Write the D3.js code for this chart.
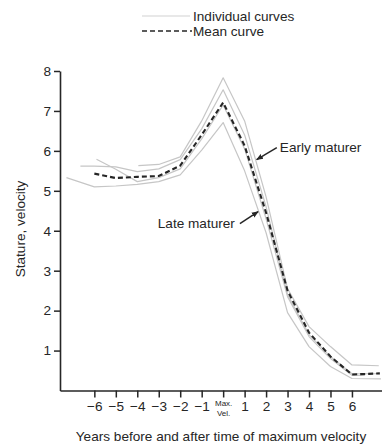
<!DOCTYPE html>
<html>
<head>
<meta charset="utf-8">
<script src="https://cdn.jsdelivr.net/npm/d3@7"></script>
<style>
  html, body { margin: 0; padding: 0; background: #fff; }
  svg { display: block; font-family: "Liberation Sans", Arial, Helvetica, sans-serif; }
</style>
</head>
<body>
<svg id="chart" width="382" height="445"></svg>
<script>
// ---- Data ----
const xTicks = [-6, -5, -4, -3, -2, -1, 0, 1, 2, 3, 4, 5, 6];
const xTickLabels = ["\u22126", "\u22125", "\u22124", "\u22123", "\u22122", "\u22121", "Max.", "1", "2", "3", "4", "5", "6"];
const yTicks = [1, 2, 3, 4, 5, 6, 7, 8];

// Mean curve
const meanT = [-6, -5, -4, -3, -2, -1, 0, 1, 2, 3, 4, 5, 6, 7.3];
const meanV = [5.43, 5.32, 5.35, 5.37, 5.63, 6.4, 7.21, 6.13, 4.45, 2.5, 1.45, 0.85, 0.4, 0.43];

// Individual curves
const earlyT = [-3.95, -3, -2, -1, 0, 1, 2, 3, 4, 5, 6, 7.25];
const earlyV = [5.63, 5.66, 5.85, 6.75, 7.83, 6.75, 4.85, 2.55, 1.6, 1.1, 0.64, 0.62];

const secondT = [-6.65, -6, -5, -4, -3, -2, -1, 0, 1, 2, 3, 4, 5, 6, 7.3];
const secondV = [5.62, 5.62, 5.6, 5.48, 5.55, 5.78, 6.55, 7.53, 6.4, 4.6, 2.4, 1.4, 0.85, 0.42, 0.42];

const thirdT = [-5.9, -5, -4, -3, -2, -1, 0, 1, 2, 3, 4, 5, 6, 6.6];
const thirdV = [5.79, 5.54, 5.23, 5.33, 5.55, 6.3, 7.15, 6.05, 4.3, 2.35, 1.35, 0.8, 0.38, 0.38];

const lateT = [-7.3, -6, -5, -4, -3, -2, -1, 0, 1, 2, 3, 4, 5, 6, 7.35];
const lateV = [5.33, 5.1, 5.12, 5.16, 5.23, 5.4, 6.02, 6.71, 5.5, 3.95, 1.95, 1.1, 0.6, 0.3, 0.29];

// Annotation anchor points (t, value)
const earlyLabel = { text: "Early maturer", tip: [1.56, 5.78], tail: [2.5, 6.08] };
const lateLabel = { text: "Late maturer", tip: [1.63, 4.48], tail: [0.78, 4.18] };

// ---- Chart ----
const svg = d3.select("#chart");
svg.append("rect").attr("width", 382).attr("height", 445).attr("fill", "#fff");

const x = d3.scaleLinear().domain([-7.6, 7.4]).range([60, 382]);
const y = d3.scaleLinear().domain([0, 8]).range([390.5, 71]);

const ink = "#262626";
const grey = "#c6c6c6";
const fs = 13.6;

// Legend
const legend = svg.append("g");
legend.append("line").attr("x1", 142).attr("x2", 190).attr("y1", 16).attr("y2", 16)
  .attr("stroke", "#d2d2d2").attr("stroke-width", 1.2);
legend.append("text").attr("x", 193).attr("y", 20.5).attr("font-size", fs).attr("fill", ink)
  .text("Individual curves");
legend.append("line").attr("x1", 142).attr("x2", 192).attr("y1", 31).attr("y2", 31)
  .attr("stroke", ink).attr("stroke-width", 1.6).attr("stroke-dasharray", "5,3");
legend.append("text").attr("x", 193).attr("y", 36).attr("font-size", fs).attr("fill", ink)
  .text("Mean curve");

// Lines
const line = d3.line().x(d => x(d[0])).y(d => y(d[1]));
const individual = [
  d3.zip(lateT, lateV),
  d3.zip(thirdT, thirdV),
  d3.zip(secondT, secondV),
  d3.zip(earlyT, earlyV)
];
svg.append("g").selectAll("path").data(individual).join("path")
  .attr("d", line).attr("fill", "none").attr("stroke", grey).attr("stroke-width", 1.2)
  .attr("stroke-linejoin", "round");

svg.append("path").datum(d3.zip(meanT, meanV)).attr("d", line)
  .attr("fill", "none").attr("stroke", ink).attr("stroke-width", 2.1)
  .attr("stroke-dasharray", "5,3");

// Axes
const yAxis = svg.append("g").attr("transform", "translate(60,0)")
  .call(d3.axisLeft(y).tickValues(yTicks).tickSize(6).tickSizeOuter(0).tickPadding(3).tickFormat(d3.format("d")));
const xAxis = svg.append("g").attr("transform", `translate(0,${y(0)})`)
  .call(d3.axisBottom(x).tickValues(xTicks).tickSize(7).tickSizeOuter(0).tickPadding(4)
    .tickFormat((d, i) => xTickLabels[i]));

[yAxis, xAxis].forEach(a => {
  a.select(".domain").attr("stroke", ink).attr("stroke-width", 1.6);
  a.selectAll(".tick line").attr("stroke", ink).attr("stroke-width", 1.5);
  a.selectAll(".tick text").attr("fill", ink).attr("font-size", fs)
    .attr("font-family", "Liberation Sans, Arial, sans-serif");
});

// Max. / Vel. label
xAxis.selectAll(".tick").filter(d => d === 0).select("text").each(function () {
  const t = d3.select(this);
  t.text(null).attr("font-size", 8);
  t.append("tspan").attr("x", 0).attr("dy", "0.6em").text("Max.");
  t.append("tspan").attr("x", 0).attr("dy", "1.2em").text("Vel.");
});

// Axis titles
svg.append("text").attr("x", 221).attr("y", 441).attr("text-anchor", "middle")
  .attr("font-size", fs).attr("fill", ink)
  .text("Years before and after time of maximum velocity");
svg.append("text").attr("transform", "translate(25,229) rotate(-90)")
  .attr("text-anchor", "middle").attr("font-size", fs).attr("fill", ink)
  .text("Stature, velocity");

// Annotations
svg.append("defs").append("marker").attr("id", "ah").attr("viewBox", "0 0 10 10")
  .attr("refX", 9).attr("refY", 5).attr("markerWidth", 7).attr("markerHeight", 7)
  .attr("orient", "auto-start-reverse").attr("markerUnits", "userSpaceOnUse")
  .append("path").attr("d", "M0,1 L10,5 L0,9 Z").attr("fill", ink);

[earlyLabel, lateLabel].forEach(a => {
  svg.append("line")
    .attr("x1", x(a.tail[0])).attr("y1", y(a.tail[1]))
    .attr("x2", x(a.tip[0])).attr("y2", y(a.tip[1]))
    .attr("stroke", ink).attr("stroke-width", 1.5).attr("marker-end", "url(#ah)");
});
svg.append("text").attr("x", x(earlyLabel.tail[0]) + 3).attr("y", y(earlyLabel.tail[1]) + 4)
  .attr("font-size", fs).attr("fill", ink).text(earlyLabel.text);
svg.append("text").attr("x", x(lateLabel.tail[0]) - 5).attr("y", y(lateLabel.tail[1]) + 4)
  .attr("text-anchor", "end").attr("font-size", fs).attr("fill", ink).text(lateLabel.text);
</script>
</body>
</html>
